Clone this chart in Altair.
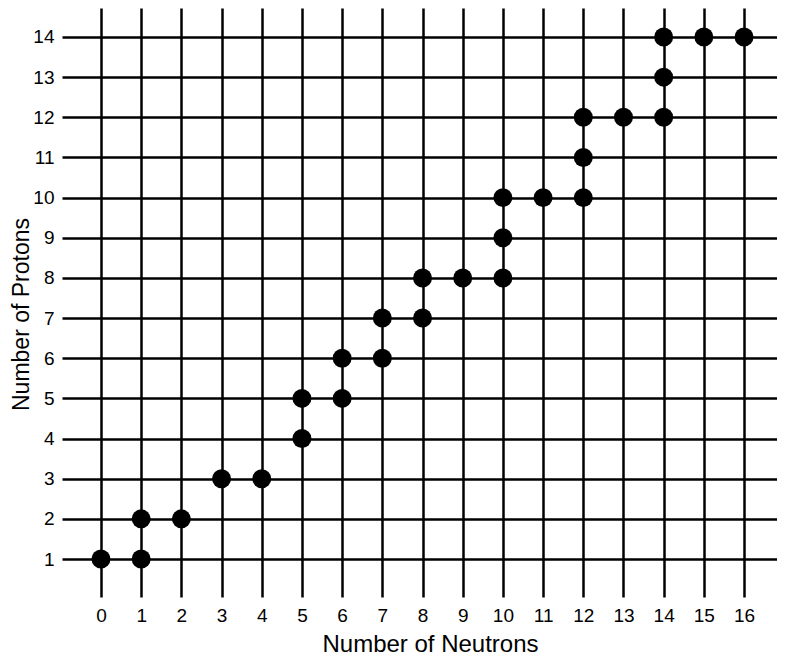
import altair as alt
import pandas as pd

neutrons = [0, 1, 1, 2, 3, 4, 5, 5, 6, 6, 7, 7, 8, 8, 9, 10, 10, 10, 11, 12, 12, 12, 13, 14, 14, 14, 15, 16]
protons = [1, 1, 2, 2, 3, 3, 4, 5, 5, 6, 6, 7, 7, 8, 8, 8, 9, 10, 10, 10, 11, 12, 12, 12, 13, 14, 14, 14]
x_ticks = list(range(0, 17))
y_ticks = list(range(1, 15))

df = pd.DataFrame({"Neutrons": neutrons, "Protons": protons})

FONT = "Liberation Sans"

x_axis = alt.Axis(
    values=x_ticks, grid=True, gridColor="black", gridWidth=2.5, gridOpacity=1,
    domain=False, ticks=False, tickSize=0, labelFontSize=19, labelFont=FONT,
    labelColor="black", labelPadding=24, labelBaseline="alphabetic",
    title="Number of Neutrons", titleFont=FONT, titleFontSize=24,
    titleFontWeight="normal", titleColor="black", titleBaseline="alphabetic",
    titleY=54, titleX=368, titleAnchor="middle",
)
y_axis = alt.Axis(
    values=y_ticks, grid=True, gridColor="black", gridWidth=2.5, gridOpacity=1,
    domain=False, ticks=False, tickSize=0, labelFontSize=19, labelFont=FONT,
    labelColor="black", labelPadding=8, labelBaseline="middle",
    title="Number of Protons", titleFont=FONT, titleFontSize=23,
    titleFontWeight="normal", titleColor="black", titleBaseline="alphabetic",
    titleX=-34, titleY=306, titleAngle=270, titleAnchor="middle",
)

chart = alt.Chart(df).mark_circle(size=360, color="black", opacity=1).encode(
    x=alt.X("Neutrons:Q", scale=alt.Scale(domain=[-0.97, 16.82], nice=False, zero=False), axis=x_axis),
    y=alt.Y("Protons:Q", scale=alt.Scale(domain=[0.054, 14.722], nice=False, zero=False), axis=y_axis),
).properties(
    width=715, height=589,
    autosize=alt.AutoSizeParams(type="none"),
    padding={"left": 54, "top": 0, "right": 0, "bottom": 60},
).configure_view(stroke=None)

chart.save("out.html", embed_options={"renderer": "svg", "actions": False})
